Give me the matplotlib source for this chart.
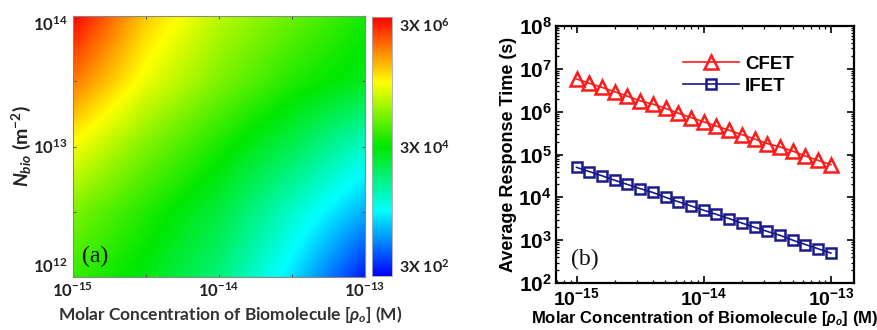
import numpy as np
import matplotlib
matplotlib.use("Agg")
import matplotlib.pyplot as plt
from matplotlib.colors import LinearSegmentedColormap
from matplotlib.ticker import LogLocator, NullFormatter

plt.rcParams['mathtext.fontset'] = 'custom'
plt.rcParams['mathtext.rm'] = 'Lato:bold'
plt.rcParams['mathtext.it'] = 'Lato:italic:bold'
plt.rcParams['mathtext.bf'] = 'Liberation Sans:bold'

# ---- panel (a): response time map, log10(T) read at half-decade grid points
rho_dec = [-15, -14.5, -14, -13.5, -13]      # log10 concentration (M)
nbio_dec = [12, 12.5, 13, 13.5, 14]          # log10 N_bio (m^-2)
logT_map = [                                  # rows: nbio 12 -> 14, cols: rho -15 -> -13
    [4.68, 4.40, 4.00, 3.36, 2.56],
    [4.96, 4.60, 4.24, 3.68, 3.16],
    [5.44, 4.96, 4.56, 4.16, 3.68],
    [6.00, 5.40, 4.96, 4.60, 4.36],
    [6.48, 5.68, 5.20, 4.88, 4.56],
]
cbar_ticks = [300, 3e4, 3e6]
cbar_labels = ['3X 10$^{2}$', '3X 10$^{4}$', '3X 10$^{6}$']

# ---- panel (b): average response time
conc = [1.0e-15, 1.26e-15, 1.58e-15, 2.0e-15, 2.51e-15, 3.16e-15, 3.98e-15,
        5.01e-15, 6.31e-15, 7.94e-15, 1.0e-14, 1.26e-14, 1.58e-14, 2.0e-14,
        2.51e-14, 3.16e-14, 3.98e-14, 5.01e-14, 6.31e-14, 7.94e-14, 1.0e-13]
cfet = [5.8e6, 4.6e6, 3.7e6, 2.9e6, 2.3e6, 1.8e6, 1.5e6, 1.2e6, 9.2e5, 7.3e5,
        5.8e5, 4.6e5, 3.7e5, 2.9e5, 2.3e5, 1.8e5, 1.5e5, 1.2e5, 9.2e4, 7.3e4, 5.8e4]
ifet = [5.0e4, 4.0e4, 3.2e4, 2.5e4, 2.0e4, 1.6e4, 1.3e4, 1.0e4, 7.9e3, 6.3e3,
        5.0e3, 4.0e3, 3.2e3, 2.5e3, 2.0e3, 1.6e3, 1.3e3, 1.0e3, 7.9e2, 6.3e2, 5.0e2]

fig = plt.figure(figsize=(8.78, 3.30), dpi=100)

# ---------------- (a)
ax1 = fig.add_axes([0.0831, 0.1606, 0.3326, 0.7909])
cmap = LinearSegmentedColormap.from_list(
    'rainbow5', ['#0000ff', '#00ffff', '#00e800', '#ffff00', '#ff0000'])
step = rho_dec[1] - rho_dec[0]
im = ax1.imshow(np.array(logT_map), origin='lower', aspect='auto', cmap=cmap,
                extent=(rho_dec[0] - step / 2, rho_dec[-1] + step / 2,
                        nbio_dec[0] - step / 2, nbio_dec[-1] + step / 2),
                interpolation='bilinear', interpolation_stage='data',
                vmin=np.log10(cbar_ticks[0]), vmax=np.log10(cbar_ticks[-1]))
ax1.set_xlim(rho_dec[0], rho_dec[-1])
ax1.set_ylim(nbio_dec[0], nbio_dec[-1])
ax1.set_xticks(rho_dec)
ax1.set_xticklabels(['$10^{%d}$' % v if v == int(v) else '' for v in rho_dec])
ax1.set_yticks(nbio_dec)
ax1.set_yticklabels(['$10^{%d}$' % v if v == int(v) else '' for v in nbio_dec])
ax1.tick_params(direction='in', length=2.5, width=0.8, color='#555555',
                top=True, right=True, labelsize=12, pad=4, labelcolor='#222222')
ylabs = ax1.get_yticklabels()
ylabs[0].set_verticalalignment('bottom')
ylabs[-1].set_verticalalignment('top')
for s in ax1.spines.values():
    s.set_color('#888888')
    s.set_linewidth(0.8)
ax1.set_xlabel('Molar Concentration of Biomolecule [$\\rho_o$] (M)',
               family='Lato', fontweight='bold', fontsize=12.5, color='#333333',
               labelpad=2)
ax1.xaxis.label.set_x(0.54)
ax1.set_ylabel('$N_{bio}$ (m$^{-2}$)', family='Lato', fontweight='bold',
               fontsize=14, color='#222222', labelpad=0)
ax1.text(0.03, 0.04, '(a)', transform=ax1.transAxes, family='Liberation Serif',
         fontsize=17, color='#111111', va='bottom', ha='left')

cax = fig.add_axes([0.4237, 0.1636, 0.0228, 0.7848])
cb = fig.colorbar(im, cax=cax)
cb.set_ticks(np.log10(cbar_ticks))
cb.set_ticklabels(cbar_labels)
cb.ax.tick_params(length=0, labelsize=11.5, pad=5, labelcolor='#222222')
cb.outline.set_edgecolor('#aaaaaa')
cb.outline.set_linewidth(0.6)
clabs = cb.ax.get_yticklabels()
for t in clabs:
    t.set_family('Lato')
    t.set_fontweight('bold')
clabs[0].set_verticalalignment('bottom')
clabs[-1].set_verticalalignment('top')

# ---------------- (b)
ax2 = fig.add_axes([0.6333, 0.1424, 0.3394, 0.7788])
ax2.plot(conc, cfet, color='#ff1a1a', lw=1.2, marker='^', ms=10.5, mfc='none',
         mec='#ff1a1a', mew=1.8, label='CFET')
ax2.plot(conc, ifet, color='#1a1a8c', lw=1.2, marker='s', ms=7.5, mfc='none',
         mec='#1a1a8c', mew=1.8, label='IFET')
ax2.set_xscale('log')
ax2.set_yscale('log')
ax2.set_xlim(6.9e-16, 1.52e-13)
ax2.set_ylim(1e2, 1e8)
ax2.set_xticks([1e-15, 1e-14, 1e-13])
ax2.set_xticklabels(['$\\mathbf{10^{-15}}$', '$\\mathbf{10^{-14}}$', '$\\mathbf{10^{-13}}$'])
yt = [1e2, 1e3, 1e4, 1e5, 1e6, 1e7, 1e8]
ax2.set_yticks(yt)
ax2.set_yticklabels(['$\\mathbf{10^{%d}}$' % int(np.log10(v)) for v in yt])
ax2.xaxis.set_minor_locator(LogLocator(base=10, subs=np.arange(2, 10), numticks=20))
ax2.xaxis.set_minor_formatter(NullFormatter())
ax2.yaxis.set_minor_locator(LogLocator(base=10, subs=np.arange(2, 10), numticks=20))
ax2.yaxis.set_minor_formatter(NullFormatter())
ax2.tick_params(which='major', direction='in', length=5, width=1.2,
                top=True, right=True, pad=3)
ax2.tick_params(axis='x', which='major', labelsize=14)
ax2.tick_params(axis='y', which='major', labelsize=15)
ax2.tick_params(which='minor', direction='in', length=2.5, width=0.9,
                top=True, right=True)
for s in ax2.spines.values():
    s.set_linewidth(1.6)
ax2.set_xlabel('Molar Concentration of Biomolecule [$\\rho_o$] (M)',
               family='Liberation Sans', fontweight='bold', fontsize=12,
               labelpad=0)
ax2.set_ylabel('Average Response Time (s)', family='Liberation Sans',
               fontweight='bold', fontsize=13, labelpad=1)
leg = ax2.legend(loc='upper left', bbox_to_anchor=(0.37, 0.95), frameon=False,
                 handlelength=3.0, handletextpad=0.3, labelspacing=0.25,
                 prop={'family': 'Liberation Sans', 'weight': 'bold', 'size': 13.5})
ax2.text(0.05, 0.05, '(b)', transform=ax2.transAxes, family='Liberation Serif',
         fontsize=17, color='#111111', va='bottom', ha='left')

fig.savefig('out.png', dpi=100)
